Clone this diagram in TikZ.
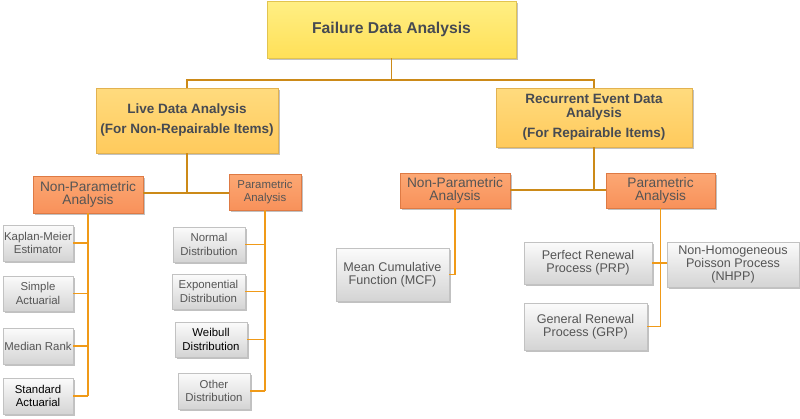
\documentclass[tikz,border=0pt]{standalone}
\usepackage{fontspec}
\setmainfont{Liberation Sans}
\usetikzlibrary{shadows}
\definecolor{txt}{HTML}{555555}
\definecolor{htxt}{HTML}{464A52}
\definecolor{lineA}{HTML}{CC8A18}
\definecolor{lineB}{HTML}{F09A18}
\definecolor{yTop}{HTML}{FFEF84}
\definecolor{yBot}{HTML}{FFE058}
\definecolor{yDraw}{HTML}{E2C450}
\definecolor{gTop}{HTML}{FFDB7E}
\definecolor{gBot}{HTML}{FFCA5C}
\definecolor{gDraw}{HTML}{E2B250}
\definecolor{oTop}{HTML}{FCA874}
\definecolor{oBot}{HTML}{F8915A}
\definecolor{oDraw}{HTML}{DE7A44}
\definecolor{wTop}{HTML}{FBFBFB}
\definecolor{wBot}{HTML}{D4D4D4}
\definecolor{wDraw}{HTML}{C2C2C2}
\tikzset{
  base/.style={rectangle, inner sep=1pt, align=center, text=txt,
    drop shadow={shadow xshift=1.5pt, shadow yshift=-2.2pt, opacity=0.35, fill=black!70}},
  topbox/.style={base, draw=yDraw, top color=yTop, bottom color=yBot, text=htxt,
    font=\bfseries\fontsize{15.7}{18}\selectfont},
  midbox/.style={base, draw=gDraw, top color=gTop, bottom color=gBot, text=htxt,
    font=\bfseries\fontsize{13.5}{14}\selectfont},
  orbox/.style={base, draw=oDraw, top color=oTop, bottom color=oBot,
    font=\fontsize{13.7}{13}\selectfont},
  wbox/.style={base, draw=wDraw, top color=wTop, bottom color=wBot,
    font=\fontsize{11.4}{13.3}\selectfont},
  wboxb/.style={base, draw=wDraw, top color=wTop, bottom color=wBot,
    font=\fontsize{12.6}{13}\selectfont},
  conA/.style={draw=lineA, line width=1.6pt},
  conB/.style={draw=lineB, line width=1.7pt},
}
\begin{document}
\begin{tikzpicture}[x=1pt,y=-1pt]
\useasboundingbox (0,0) rectangle (800,418);
% top
\node[topbox, minimum width=249pt, minimum height=57pt] (top) at (391.5,29.5) {Failure Data Analysis};
\node[midbox, minimum width=182pt, minimum height=65pt] (live) at (187,120.5) {Live Data Analysis\\[6pt](For Non-Repairable Items)};
\node[midbox, minimum width=196pt, minimum height=59pt] (rec) at (594,117.5) {Recurrent Event Data\\Analysis\\[6pt](For Repairable Items)};
% second level
\node[orbox, minimum width=110pt, minimum height=37pt] (lnp) at (88,194.5) {Non-Parametric\\Analysis};
\node[orbox, minimum width=72pt, minimum height=36pt, font=\fontsize{11.4}{12.5}\selectfont] (lp) at (265,192) {Parametric\\Analysis};
\node[orbox, minimum width=110pt, minimum height=35pt] (rnp) at (455,190.5) {Non-Parametric\\Analysis};
\node[orbox, minimum width=109pt, minimum height=35pt] (rp) at (660.5,190.5) {Parametric\\Analysis};
% left leaves
\node[wbox, minimum width=70pt, minimum height=36pt] (km) at (38,243) {Kaplan-Meier\\Estimator};
\node[wbox, minimum width=70pt, minimum height=35pt] (sa) at (38,293.5) {Simple\\Actuarial};
\node[wbox, minimum width=70pt, minimum height=36pt] (mr) at (38,346) {Median Rank};
\node[wbox, minimum width=70pt, minimum height=36pt, text=black] (sta) at (38,396) {Standard\\Actuarial};
% middle leaves
\node[wbox, minimum width=72pt, minimum height=35pt] (nd) at (209,244.5) {Normal\\Distribution};
\node[wbox, minimum width=73pt, minimum height=35pt] (ed) at (208.5,291.5) {Exponential\\Distribution};
\node[wbox, minimum width=72pt, minimum height=35pt, text=black] (wd) at (211,339.5) {Weibull\\Distribution};
\node[wbox, minimum width=72pt, minimum height=36pt] (od) at (214,391) {Other\\Distribution};
% right leaves
\node[wboxb, minimum width=113pt, minimum height=53pt] (mcf) at (392.5,274.5) {Mean Cumulative\\Function (MCF)};
\node[wboxb, minimum width=128pt, minimum height=42pt] (prp) at (588,263) {Perfect Renewal\\Process (PRP)};
\node[wboxb, minimum width=132pt, minimum height=45pt] (nhpp) at (733,264.5) {Non-Homogeneous\\Poisson Process\\(NHPP)};
\node[wboxb, minimum width=123pt, minimum height=47pt] (grp) at (585.5,326.5) {General Renewal\\Process (GRP)};
% connectors
\coordinate (j0) at (391.5,80);
\draw[conA] (top.south) -- (j0);
\draw[conA] (j0) -| (live.north);
\draw[conA] (j0) -| (rec.north);
\coordinate (j1) at (187,193);
\draw[conA] (live.south) -- (j1);
\draw[conA] (j1) -- (lnp.east |- j1);
\draw[conA] (j1) -- (lp.west |- j1);
\coordinate (j2) at (594,190);
\draw[conA] (rec.south) -- (j2);
\draw[conA] (j2) -- (rnp.east |- j2);
\draw[conA] (j2) -- (rp.west |- j2);
% left children
\coordinate (v1) at (lnp.south |- sta.east);
\draw[conB] (lnp.south) -- (v1);
\draw[conB] (km.east) -- (km.east -| v1);
\draw[conB] (sa.east) -- (sa.east -| v1);
\draw[conB] (mr.east) -- (mr.east -| v1);
\draw[conB] (sta.east) -- (v1);
% middle children
\coordinate (v2) at (lp.south |- od.east);
\draw[conB] (lp.south) -- (v2);
\draw[conB] (nd.east) -- (nd.east -| v2);
\draw[conB] (ed.east) -- (ed.east -| v2);
\draw[conB] (wd.east) -- (wd.east -| v2);
\draw[conB] (od.east) -- (v2);
% right children
\draw[conB] (rnp.south) |- (mcf.east);
\coordinate (v3) at (rp.south |- grp.east);
\draw[conB] (rp.south) -- (v3);
\draw[conB] (grp.east) -- (v3);
\draw[conB] (prp.east) -- (nhpp.west |- prp.east);
\end{tikzpicture}
\end{document}
